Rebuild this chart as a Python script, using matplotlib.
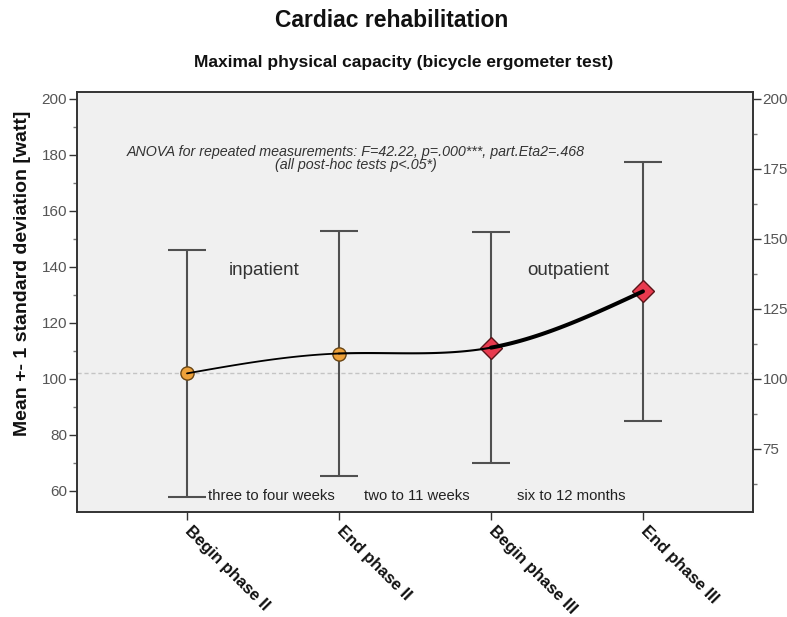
import matplotlib
matplotlib.use("Agg")
import matplotlib.pyplot as plt
import numpy as np

plt.rcParams['font.family'] = ['Liberation Sans', 'DejaVu Sans']

# measurement points and their results (watt)
TIME_POINTS = ['Begin phase II', 'End phase II', 'Begin phase III', 'End phase III']
MEANS = [102.0, 109.1, 111.2, 131.3]
SDS = [44.2, 43.9, 41.3, 46.2]
PHASE_LABELS = ['three to four weeks', 'two to 11 weeks', 'six to 12 months']
SETTINGS = ['inpatient', 'outpatient']
ANOVA_TEXT = ('ANOVA for repeated measurements: F=42.22, p=.000***, part.Eta2=.468\n'
              '(all post-hoc tests p<.05*)')

LEFT_TICKS = [60, 80, 100, 120, 140, 160, 180, 200]
RIGHT_TICKS = [75, 100, 125, 150, 175, 200]

INK = '#333333'


def natural_spline(xs, ys, n=60):
    """Return points of a natural cubic spline through (xs, ys), per segment."""
    xs = np.asarray(xs, float)
    ys = np.asarray(ys, float)
    k = len(xs)
    h = np.diff(xs)
    a = np.zeros((k, k))
    b = np.zeros(k)
    a[0, 0] = a[-1, -1] = 1.0
    for i in range(1, k - 1):
        a[i, i - 1] = h[i - 1]
        a[i, i] = 2 * (h[i - 1] + h[i])
        a[i, i + 1] = h[i]
        b[i] = 6 * ((ys[i + 1] - ys[i]) / h[i] - (ys[i] - ys[i - 1]) / h[i - 1])
    m = np.linalg.solve(a, b)
    segs = []
    for i in range(k - 1):
        t = np.linspace(xs[i], xs[i + 1], n)
        u0 = xs[i + 1] - t
        u1 = t - xs[i]
        y = (m[i] * u0 ** 3 + m[i + 1] * u1 ** 3) / (6 * h[i]) \
            + (ys[i] / h[i] - m[i] * h[i] / 6) * u0 \
            + (ys[i + 1] / h[i] - m[i + 1] * h[i] / 6) * u1
        segs.append((t, y))
    return segs


fig = plt.figure(figsize=(7.87, 6.17), dpi=100)
ax = fig.add_axes([0.0978, 0.1702, 0.859, 0.6807])
ax.set_facecolor('#F0F0F0')

x = np.arange(len(TIME_POINTS))

# reference line at the starting value
ax.axhline(MEANS[0], color='#C4C4C4', lw=1.0, ls=(0, (3, 2)), zorder=1)

ax.errorbar(x, MEANS, yerr=SDS, fmt='none', ecolor='#505050', elinewidth=1.5,
            capsize=13.5, capthick=1.5, zorder=2)

widths = [1.3, 1.5, 2.9]
for (t, y), w in zip(natural_spline(x, MEANS), widths):
    ax.plot(t, y, color='black', lw=w, solid_capstyle='round', zorder=4)

ax.plot(x[:2], MEANS[:2], 'o', ms=9.5, mfc='#EDA13A', mec='#6A4614', mew=1.0, zorder=3)
ax.plot(x[2:], MEANS[2:], 'D', ms=11, mfc='#E83A4E', mec='#5A1418', mew=1.0, zorder=3)

ax.text(1.11, 178.8, ANOVA_TEXT, ha='center', va='center', fontsize=10.3,
        style='italic', color=INK, linespacing=0.95)
for xpos, label in zip([0.51, 2.51], SETTINGS):
    ax.text(xpos, 138.6, label, ha='center', va='center', fontsize=13.5, color=INK)
for xpos, label in zip([0.556, 1.51, 2.53], PHASE_LABELS):
    ax.text(xpos, 58.2, label, ha='center', va='center', fontsize=10.7, color='#222222')

ax.set_xlim(-0.724, 3.724)
ax.set_ylim(52.5, 202.5)

ax.set_xticks(x)
ax.set_xticklabels(TIME_POINTS, rotation=-45, rotation_mode='anchor', ha='left',
                   va='center', fontsize=12, fontweight='bold', color='#111111')
ax.tick_params(axis='x', length=6, width=1.0, color=INK, pad=6)

ax.set_yticks(LEFT_TICKS)
ax.set_yticks(np.arange(70, 200, 20), minor=True)
ax.tick_params(axis='y', which='major', length=6, width=1.0, color=INK,
               labelsize=11, labelcolor='#555555', pad=1)
ax.tick_params(axis='y', which='minor', length=3, width=1.0, color='#777777')
ax.set_ylabel('Mean +- 1 standard deviation [watt]', fontsize=14,
              fontweight='bold', color='#111111')
ax.yaxis.set_label_coords(-0.068, 0.569)

ax2 = ax.twinx()
ax2.set_ylim(ax.get_ylim())
ax2.set_yticks(RIGHT_TICKS)
ax2.set_yticks(np.arange(62.5, 200, 25), minor=True)
ax2.tick_params(axis='y', which='major', length=6, width=1.0, color=INK,
                labelsize=11, labelcolor='#555555', pad=1)
ax2.tick_params(axis='y', which='minor', length=3, width=1.0, color='#777777')

for a in (ax, ax2):
    for s in a.spines.values():
        s.set_color(INK)
        s.set_linewidth(1.2)

fig.text(0.497, 0.967, 'Cardiac rehabilitation', ha='center', va='center',
         fontsize=16.5, fontweight='bold', color='#111111')
fig.text(0.513, 0.8995, 'Maximal physical capacity (bicycle ergometer test)',
         ha='center', va='center', fontsize=12.5, fontweight='bold', color='#111111')

fig.savefig('out.png', dpi=100)
